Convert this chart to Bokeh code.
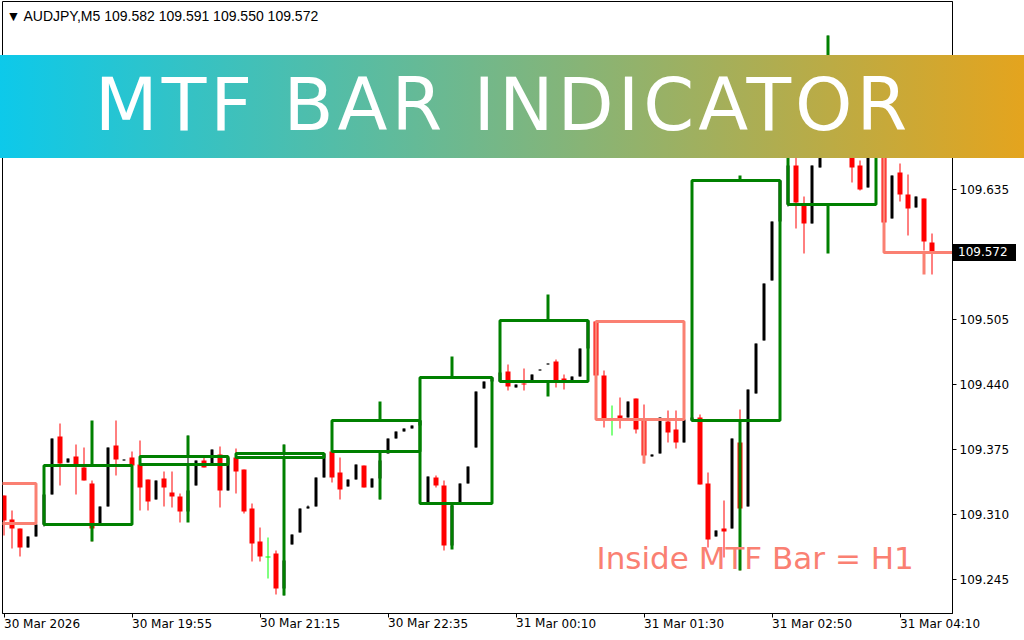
from bokeh.plotting import figure
from bokeh.layouts import column
from bokeh.models import Range1d, FixedTicker, Label, ColumnDataSource, Div
from bokeh.embed import file_html
from bokeh.resources import INLINE

symbol = "AUDJPY"
timeframe = "M5"
banner_text = "MTF BAR INDICATOR"
note_text = "Inside MTF Bar = H1"

# ---- M5 candles (bar index 0 = 30 Mar 18:35) ----
m5_open = [109.329, 109.305, 109.296, 109.277, 109.288, 109.300, 109.330, 109.388, 109.362, 109.368,
           109.357, 109.341, 109.301, 109.318, 109.379, 109.364, 109.367, 109.360, 109.345, 109.325,
           109.346, 109.332, 109.328, 109.313, 109.339, 109.364, 109.361, 109.370, 109.334, 109.367,
           109.355, 109.316, 109.283, 109.268, 109.271, 109.236, 109.280, 109.292, 109.316, 109.318,
           109.347, 109.373, 109.352, 109.338, 109.345, 109.359, 109.337, 109.346, 109.371, 109.386,
           109.393, 109.396, 109.399, 109.322, 109.347, 109.339, 109.279, 109.321, 109.341, 109.377,
           109.436, 109.443, 109.443, 109.453, 109.437, 109.441, 109.444, 109.454, 109.460, 109.463,
           109.446, 109.444, 109.448, 109.476, 109.503, 109.449, 109.406, 109.409, 109.407, 109.426,
           109.404, 109.368, 109.371, 109.403, 109.395, 109.382, 109.404, 109.407, 109.341, 109.288,
           109.296, 109.296, 109.382, 109.318, 109.431, 109.484, 109.544, 109.603, 109.620, 109.659,
           109.621, 109.601, 109.657, 109.714, 109.754, 109.734, 109.716, 109.659, 109.637, 109.704,
           109.709, 109.606, 109.652, 109.630, 109.617, 109.626, 109.582]
m5_high = [109.329, 109.314, 109.296, 109.288, 109.300, 109.330, 109.386, 109.401, 109.366, 109.380,
           109.377, 109.344, 109.318, 109.377, 109.404, 109.365, 109.373, 109.384, 109.345, 109.344,
           109.353, 109.353, 109.331, 109.389, 109.364, 109.369, 109.375, 109.378, 109.367, 109.376,
           109.355, 109.321, 109.297, 109.287, 109.274, 109.380, 109.290, 109.316, 109.319, 109.347,
           109.371, 109.376, 109.367, 109.345, 109.360, 109.359, 109.346, 109.364, 109.386, 109.393,
           109.396, 109.399, 109.404, 109.348, 109.349, 109.344, 109.319, 109.341, 109.358, 109.433,
           109.443, 109.447, 109.452, 109.460, 109.440, 109.456, 109.450, 109.455, 109.461, 109.465,
           109.450, 109.448, 109.476, 109.504, 109.503, 109.454, 109.419, 109.427, 109.423, 109.426,
           109.420, 109.370, 109.407, 109.414, 109.414, 109.405, 109.408, 109.410, 109.352, 109.294,
           109.324, 109.386, 109.415, 109.435, 109.481, 109.541, 109.603, 109.644, 109.664, 109.684,
           109.628, 109.659, 109.714, 109.789, 109.764, 109.744, 109.724, 109.664, 109.704, 109.712,
           109.714, 109.649, 109.661, 109.650, 109.628, 109.626, 109.591]
m5_low = [109.289, 109.276, 109.268, 109.277, 109.288, 109.298, 109.330, 109.339, 109.362, 109.330,
          109.344, 109.283, 109.301, 109.318, 109.349, 109.364, 109.356, 109.314, 109.314, 109.325,
          109.318, 109.317, 109.302, 109.312, 109.339, 109.357, 109.361, 109.317, 109.334, 109.331,
          109.311, 109.263, 109.263, 109.246, 109.230, 109.229, 109.280, 109.292, 109.316, 109.318,
          109.347, 109.342, 109.325, 109.338, 109.345, 109.337, 109.337, 109.325, 109.371, 109.386,
          109.393, 109.396, 109.399, 109.322, 109.337, 109.274, 109.277, 109.321, 109.341, 109.377,
          109.436, 109.443, 109.443, 109.434, 109.437, 109.434, 109.444, 109.454, 109.460, 109.437,
          109.435, 109.444, 109.448, 109.476, 109.449, 109.397, 109.389, 109.396, 109.407, 109.391,
          109.361, 109.368, 109.371, 109.382, 109.376, 109.382, 109.403, 109.340, 109.277, 109.288,
          109.267, 109.296, 109.254, 109.318, 109.431, 109.484, 109.544, 109.603, 109.618, 109.596,
          109.571, 109.601, 109.657, 109.704, 109.729, 109.712, 109.642, 109.634, 109.637, 109.702,
          109.602, 109.606, 109.623, 109.589, 109.617, 109.574, 109.550]
m5_close = [109.304, 109.296, 109.277, 109.288, 109.300, 109.330, 109.386, 109.361, 109.366, 109.360,
            109.344, 109.296, 109.318, 109.377, 109.365, 109.365, 109.359, 109.337, 109.323, 109.344,
            109.337, 109.328, 109.313, 109.334, 109.364, 109.357, 109.375, 109.334, 109.367, 109.353,
            109.313, 109.281, 109.268, 109.268, 109.236, 109.264, 109.290, 109.316, 109.318, 109.347,
            109.371, 109.347, 109.335, 109.345, 109.360, 109.337, 109.346, 109.364, 109.386, 109.393,
            109.396, 109.399, 109.404, 109.348, 109.339, 109.279, 109.319, 109.341, 109.358, 109.433,
            109.443, 109.447, 109.452, 109.438, 109.440, 109.440, 109.450, 109.455, 109.461, 109.444,
            109.444, 109.448, 109.476, 109.504, 109.449, 109.406, 109.406, 109.406, 109.423, 109.395,
            109.369, 109.370, 109.407, 109.392, 109.382, 109.405, 109.407, 109.340, 109.285, 109.294,
            109.293, 109.386, 109.316, 109.435, 109.481, 109.541, 109.603, 109.644, 109.659, 109.622,
            109.601, 109.659, 109.714, 109.754, 109.734, 109.716, 109.657, 109.635, 109.704, 109.709,
            109.602, 109.649, 109.630, 109.616, 109.628, 109.583, 109.572]

# ---- H1 bars (first/last M5 bar index of each hour, wick bar index) ----
h1_start = [-7, 5, 17, 29, 41, 52, 62, 74, 86, 98, 110]
h1_end = [4, 16, 28, 40, 52, 61, 73, 85, 97, 109, 121]
h1_wick = [-1, 11, 23, 35, 47, 56, 68, 80, 92, 103, 115]
h1_open = [109.341, 109.300, 109.360, 109.367, 109.373, 109.321, 109.443, 109.503, 109.404, 109.620, 109.709]
h1_high = [109.354, 109.404, 109.389, 109.380, 109.423, 109.468, 109.530, 109.503, 109.649, 109.789, 109.719]
h1_low = [109.284, 109.283, 109.302, 109.229, 109.325, 109.275, 109.428, 109.361, 109.254, 109.571, 109.550]
h1_close = [109.301, 109.359, 109.368, 109.371, 109.404, 109.447, 109.504, 109.405, 109.644, 109.709, 109.572]

# ---- axes ----
time_ticks = [0, 16, 32, 48, 64, 80, 96, 112]
time_labels = ["30 Mar 2026", "30 Mar 19:55", "30 Mar 21:15", "30 Mar 22:35",
               "31 Mar 00:10", "31 Mar 01:30", "31 Mar 02:50", "31 Mar 04:10"]
price_ticks = [109.245, 109.310, 109.375, 109.440, 109.505, 109.570, 109.635, 109.700, 109.765]
price_labels = ["109.245", "109.310", "109.375", "109.440", "109.505", "109.570", "109.635", "109.700", "109.765"]

BULL = "#000000"
BEAR = "#FF0000"
DOJI = "#00FF00"
H1_UP = "#008000"
H1_DN = "#FA8072"

FB = 613  # frame bottom (page pixels) used for screen-unit labels

p = figure(width=1024, height=640,
           x_range=Range1d(-0.1875, 118.5625), y_range=Range1d(109.211, 109.823),
           output_backend="svg", toolbar_location=None,
           x_axis_location="below", y_axis_location="right",
           min_border_left=2, min_border_right=72, min_border_top=1, min_border_bottom=27)
p.xgrid.visible = False
p.ygrid.visible = False
p.outline_line_color = "black"
p.outline_line_width = 1
p.background_fill_color = "white"
p.border_fill_color = "white"

# candles
bull = dict(x=[], top=[], bottom=[], high=[], low=[])
bear = dict(x=[], top=[], bottom=[], high=[], low=[])
doji = dict(x=[], top=[], bottom=[], high=[], low=[])
for i in range(len(m5_open)):
    o, h, l, c = m5_open[i], m5_high[i], m5_low[i], m5_close[i]
    if c > o:
        d = bull
        t, b = c, o
    elif c < o:
        d = bear
        t, b = o, c
    else:
        d = doji
        t, b = o, o - 0.001
    d["x"].append(i)
    d["top"].append(t)
    d["bottom"].append(b)
    d["high"].append(h)
    d["low"].append(l)

for d, col, w in ((bull, BULL, 0.375), (bear, BEAR, 0.625), (doji, DOJI, 0.625)):
    src = ColumnDataSource(d)
    p.segment(x0="x", y0="high", x1="x", y1="low", source=src, line_color=col, line_width=1)
    p.vbar(x="x", top="top", bottom="bottom", width=w, source=src, fill_color=col, line_color=None)

# H1 boxes
for col, is_up in ((H1_UP, True), (H1_DN, False)):
    sel = [j for j in range(len(h1_open)) if (h1_close[j] >= h1_open[j]) == is_up]
    src = ColumnDataSource(dict(
        left=[h1_start[j] for j in sel], right=[h1_end[j] for j in sel],
        top=[max(h1_open[j], h1_close[j]) for j in sel],
        bottom=[min(h1_open[j], h1_close[j]) for j in sel],
        wx=[h1_wick[j] for j in sel],
        high=[h1_high[j] for j in sel], low=[h1_low[j] for j in sel]))
    p.segment(x0="wx", y0="high", x1="wx", y1="top", source=src, line_color=col, line_width=3)
    p.segment(x0="wx", y0="bottom", x1="wx", y1="low", source=src, line_color=col, line_width=3)
    p.quad(left="left", right="right", top="top", bottom="bottom", source=src,
           fill_color=None, line_color=col, line_width=3)

# price axis (right)
ax = p.yaxis[0]
ax.ticker = FixedTicker(ticks=price_ticks)
ax.major_label_overrides = {t: s for t, s in zip(price_ticks, price_labels)}
ax.major_label_text_font = "DejaVu Sans"
ax.major_label_text_font_size = "12px"
ax.major_label_text_color = "black"
ax.major_tick_out = 4
ax.major_tick_in = 0
ax.minor_tick_out = 0
ax.minor_tick_in = 0
ax.major_label_standoff = 3
ax.axis_line_color = "black"

# time axis (below), labels left-aligned at their ticks
xa = p.xaxis[0]
xa.ticker = FixedTicker(ticks=time_ticks)
xa.major_label_overrides = {t: s for t, s in zip(time_ticks, time_labels)}
xa.major_label_orientation = -1e-6
xa.major_label_text_font = "DejaVu Sans"
xa.major_label_text_font_size = "12px"
xa.major_label_text_color = "black"
xa.major_label_standoff = 6
xa.major_tick_out = 4
xa.major_tick_in = 0
xa.minor_tick_out = 0
xa.minor_tick_in = 0
xa.axis_line_color = "black"

# header
hdr = "\u25BC %s,%s  %.3f %.3f %.3f %.3f" % (symbol, timeframe, m5_open[-1], m5_high[-1], m5_low[-1], m5_close[-1])
p.add_layout(Label(x=4, y=FB - 15.5, x_units="screen", y_units="screen", text=hdr,
                   text_align="left", text_baseline="alphabetic",
                   text_font="Liberation Sans", text_font_size="14px", text_color="black"))

# note
p.add_layout(Label(x=594, y=FB - 557, x_units="screen", y_units="screen", text=note_text,
                   text_align="left", text_baseline="alphabetic",
                   text_font="DejaVu Sans", text_font_size="31px", text_color=H1_DN))

# ---- gradient banner, laid over the full page width ----
banner = Div(text='<span style="position:relative;left:-9px;">%s</span>' % banner_text,
             width=1024, height=103,
             styles={"position": "relative", "z-index": "10",
                     "background": "linear-gradient(to right, rgb(13,201,234), rgb(228,164,30))",
                     "color": "white", "font-family": "'DejaVu Sans'", "font-size": "73px",
                     "letter-spacing": "4px", "line-height": "99px", "text-align": "center",
                     "white-space": "nowrap", "overflow": "hidden"})
banner.margin = (55 - 640, 0, 0, 0)

# ---- current price tag on the price axis ----
tag = Div(text='<span style="margin-left:5px;">%.3f</span>' % m5_close[-1],
          width=63, height=17,
          styles={"position": "relative", "z-index": "11",
                  "background": "black", "color": "white", "font-family": "'DejaVu Sans'",
                  "font-size": "12px", "line-height": "17px", "white-space": "nowrap",
                  "overflow": "hidden"})
tag.margin = (244 - 158, 0, 640 - 261, 953)

page = column(p, banner, tag, spacing=0)
open("out.html", "w").write(file_html(page, INLINE))
